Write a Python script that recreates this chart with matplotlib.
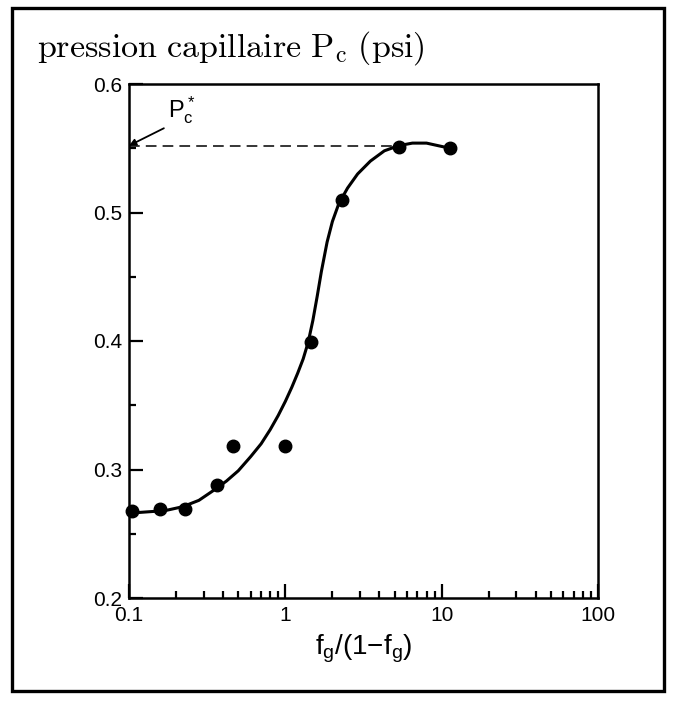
import numpy as np
import matplotlib
matplotlib.use("Agg")
import matplotlib.pyplot as plt
from matplotlib.patches import Rectangle
from matplotlib.ticker import FixedLocator, LogLocator, NullFormatter

# measured points
fg_ratio = [0.105, 0.158, 0.229, 0.368, 0.466, 1.0, 1.46, 2.29, 5.33, 11.3]
pc = [0.268, 0.269, 0.269, 0.288, 0.318, 0.318, 0.399, 0.510, 0.551, 0.550]

# fitted curve
curve_x = [0.1, 0.13, 0.17, 0.22, 0.28, 0.35, 0.42, 0.5, 0.6, 0.7, 0.8, 0.9,
           1.0, 1.1, 1.2, 1.3, 1.4, 1.5, 1.6, 1.7, 1.85, 2.0, 2.2, 2.5, 2.9,
           3.5, 4.3, 5.3, 6.5, 8.0, 9.5, 11.3]
curve_y = [0.266, 0.267, 0.268, 0.271, 0.276, 0.284, 0.291, 0.299, 0.310,
           0.320, 0.331, 0.342, 0.353, 0.364, 0.375, 0.386, 0.399, 0.416,
           0.435, 0.454, 0.477, 0.493, 0.507, 0.519, 0.530, 0.540, 0.548,
           0.552, 0.554, 0.554, 0.552, 0.550]

pc_star = 0.552
pc_star_end = 5.33

y_ticks = [0.2, 0.3, 0.4, 0.5, 0.6]
y_minor = [0.25, 0.35, 0.45, 0.55]
x_ticks = [0.1, 1, 10, 100]
x_labels = ["0.1", "1", "10", "100"]

W, H = 676, 704
fig = plt.figure(figsize=(W / 100, H / 100), dpi=100)
ax = fig.add_axes([129 / W, 1 - 598 / H, 469 / W, 514 / H])

sans = "Liberation Sans"

ax.plot(curve_x, curve_y, color="black", lw=2.2, solid_capstyle="round",
        solid_joinstyle="round")
ax.plot(fg_ratio, pc, "o", color="black", ms=9, clip_on=False)
ax.plot([0.1, pc_star_end], [pc_star, pc_star], color="black", lw=1.1,
        dashes=(7, 4))

ax.annotate(r"$\mathregular{P_c^*}$", xy=(0.1, pc_star), xytext=(28, 14),
            textcoords="offset points", ha="left", va="bottom",
            fontsize=17, family=sans,
            arrowprops=dict(arrowstyle="-|>", color="black", lw=1.3,
                            mutation_scale=10, relpos=(0, 0),
                            shrinkA=1, shrinkB=0))

ax.set_xscale("log")
ax.set_xlim(0.1, 100)
ax.set_ylim(0.2, 0.6)

ax.xaxis.set_major_locator(FixedLocator(x_ticks))
ax.set_xticklabels(x_labels)
ax.xaxis.set_minor_locator(LogLocator(base=10, subs=np.arange(2, 10)))
ax.xaxis.set_minor_formatter(NullFormatter())
ax.set_yticks(y_ticks)
ax.set_yticklabels([f"{v:.1f}" for v in y_ticks])
ax.yaxis.set_minor_locator(FixedLocator(y_minor))

ax.tick_params(which="both", direction="in", top=False, right=False,
               width=1.6, labelsize=15)
ax.tick_params(which="major", length=10)
ax.tick_params(axis="x", which="major", pad=6)
ax.tick_params(axis="y", which="major", pad=5)
ax.tick_params(which="minor", length=5)
for lab in ax.get_xticklabels() + ax.get_yticklabels():
    lab.set_family(sans)

for s in ax.spines.values():
    s.set_linewidth(1.8)

ax.set_xlabel(r"$\mathregular{f_g/(1{-}f_g)}$", fontsize=20, family=sans,
              labelpad=5)

fig.text(37 / W, 1 - 57 / H, r"$\mathrm{pression\ capillaire\ P_c\ (psi)}$",
         fontsize=24.5, math_fontfamily="cm", ha="left", va="baseline")

fig.patches.append(Rectangle((12 / W, 1 - 691 / H), 652 / W, 683 / H,
                             transform=fig.transFigure, fill=False,
                             edgecolor="black", lw=2.4))

fig.savefig("out.png", dpi=100)
